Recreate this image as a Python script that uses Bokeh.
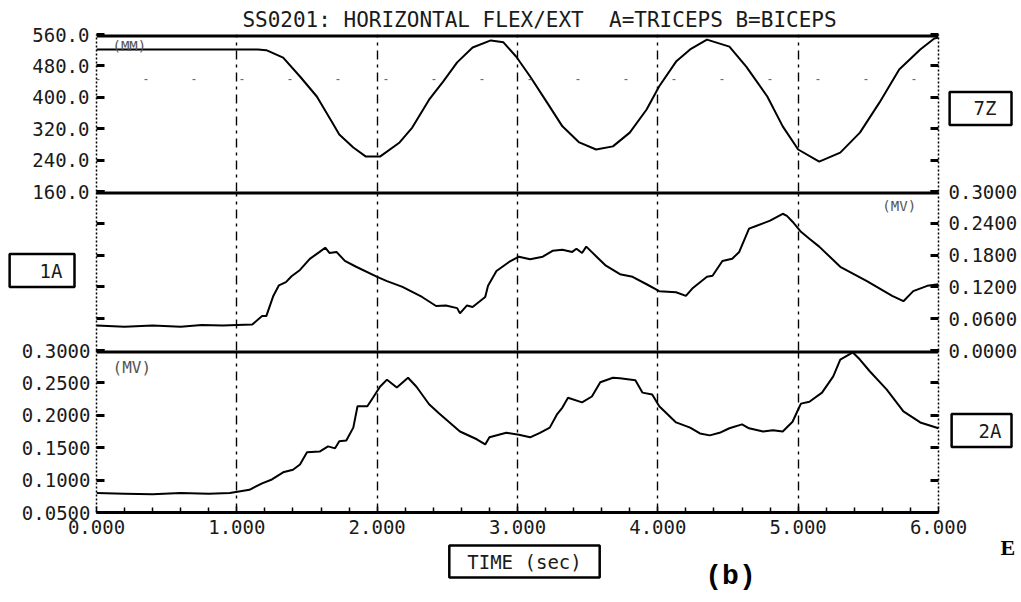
from bokeh.plotting import figure
from bokeh.models import (Range1d, LinearAxis, FixedTicker, NumeralTickFormatter,
                          Span, Label, Grid)
from bokeh.layouts import column
from bokeh.embed import file_html
from bokeh.resources import INLINE

# ---------------- data ----------------
title_text = "SS0201: HORIZONTAL FLEX/EXT\u00a0 A=TRICEPS B=BICEPS"
x_ticks = [0, 1, 2, 3, 4, 5, 6]
x_minor = [0.2, 0.4, 0.6, 0.8, 1.2, 1.4, 1.6, 1.8, 2.2, 2.4, 2.6, 2.8, 3.2, 3.4, 3.6, 3.8,
           4.2, 4.4, 4.6, 4.8, 5.2, 5.4, 5.6, 5.8]
grid_times = [1, 2, 3, 4, 5]

# panel 1 : 7Z position
p1_ticks = [160, 240, 320, 400, 480, 560]
t1 = [0.0, 0.5, 1.0, 1.15, 1.21, 1.33, 1.45, 1.57, 1.68, 1.73, 1.83, 1.92, 2.02, 2.16, 2.25,
      2.37, 2.47, 2.57, 2.68, 2.81, 2.90, 2.99, 3.09, 3.21, 3.32, 3.44, 3.56, 3.68, 3.80, 3.92,
      4.01, 4.13, 4.23, 4.35, 4.51, 4.63, 4.78, 4.89, 5.00, 5.15, 5.30, 5.44, 5.58, 5.72, 5.87,
      5.97, 6.0]
v1 = [522, 522, 522, 522, 520, 501, 453, 402, 336, 305, 272, 249, 249, 285, 323,
      394, 440, 489, 527, 545, 540, 504, 453, 387, 326, 285, 267, 275, 310, 369,
      428, 491, 522, 547, 529, 478, 402, 326, 267, 236, 259, 310, 387, 471, 522,
      550, 552]

# panel 2 : 1A EMG (MV)
p2_ticks = [0.0, 0.06, 0.12, 0.18, 0.24, 0.30]
t2 = [0.0, 0.2, 0.4, 0.6, 0.75, 0.9, 1.0, 1.11, 1.18, 1.21, 1.26, 1.30, 1.35, 1.39, 1.45,
      1.52, 1.59, 1.63, 1.66, 1.71, 1.77, 1.85, 2.0, 2.07, 2.18, 2.32, 2.42, 2.49, 2.57, 2.59,
      2.64, 2.68, 2.77, 2.79, 2.85, 2.94, 3.01, 3.09, 3.18, 3.25, 3.32, 3.39, 3.42, 3.46, 3.49,
      3.56, 3.63, 3.73, 3.82, 3.92, 4.01, 4.13, 4.20, 4.25, 4.35, 4.39, 4.46, 4.53, 4.58, 4.65,
      4.70, 4.80, 4.89, 4.92, 4.96, 5.02, 5.08, 5.15, 5.30, 5.49, 5.67, 5.75, 5.82, 5.92, 6.0]
v2 = [0.047, 0.045, 0.047, 0.045, 0.048, 0.047, 0.048, 0.049, 0.065, 0.065, 0.103, 0.123, 0.129, 0.140, 0.152,
      0.173, 0.186, 0.194, 0.184, 0.186, 0.169, 0.158, 0.139, 0.131, 0.120, 0.101, 0.084, 0.085, 0.080, 0.070,
      0.085, 0.082, 0.101, 0.122, 0.150, 0.167, 0.177, 0.172, 0.177, 0.188, 0.190, 0.186, 0.192, 0.184, 0.196,
      0.178, 0.160, 0.144, 0.139, 0.125, 0.112, 0.110, 0.103, 0.118, 0.139, 0.141, 0.169, 0.173, 0.186, 0.230,
      0.235, 0.245, 0.258, 0.254, 0.243, 0.224, 0.211, 0.196, 0.158, 0.131, 0.103, 0.093, 0.112, 0.122, 0.125]

# panel 3 : 2A EMG (MV)
p3_ticks = [0.05, 0.10, 0.15, 0.20, 0.25, 0.30]
t3 = [0.0, 0.2, 0.4, 0.6, 0.8, 0.95, 1.09, 1.18, 1.25, 1.33, 1.40, 1.45, 1.50, 1.59, 1.65,
      1.70, 1.73, 1.78, 1.83, 1.86, 1.93, 1.97, 2.02, 2.07, 2.14, 2.22, 2.28, 2.37, 2.44, 2.59,
      2.71, 2.77, 2.80, 2.92, 3.01, 3.09, 3.16, 3.23, 3.28, 3.32, 3.36, 3.46, 3.53, 3.59, 3.68,
      3.73, 3.84, 3.89, 3.96, 4.01, 4.13, 4.23, 4.30, 4.37, 4.44, 4.51, 4.60, 4.65, 4.75, 4.82,
      4.89, 4.96, 5.00, 5.02, 5.08, 5.17, 5.25, 5.30, 5.34, 5.39, 5.44, 5.51, 5.63, 5.75, 5.87,
      6.0]
v3 = [0.080, 0.079, 0.078, 0.080, 0.079, 0.080, 0.085, 0.095, 0.101, 0.112, 0.116, 0.124, 0.143, 0.144, 0.152,
      0.149, 0.160, 0.161, 0.181, 0.214, 0.214, 0.227, 0.244, 0.255, 0.243, 0.258, 0.244, 0.217, 0.203, 0.175,
      0.163, 0.155, 0.166, 0.173, 0.170, 0.166, 0.173, 0.181, 0.201, 0.212, 0.227, 0.220, 0.229, 0.251, 0.258,
      0.257, 0.254, 0.235, 0.232, 0.214, 0.189, 0.181, 0.172, 0.169, 0.173, 0.180, 0.186, 0.180, 0.175, 0.177,
      0.175, 0.190, 0.209, 0.218, 0.221, 0.235, 0.260, 0.286, 0.291, 0.297, 0.286, 0.268, 0.240, 0.206, 0.189,
      0.180]

# ---------------- styling ----------------
FONT = "DejaVu Sans Mono"
TXT = "#1a1a1a"
xr = Range1d(0, 6)
OVL = 28  # vertical overlap of stacked canvases (px)


def make_fig(ylo, yhi, fh, top, bottom, margin_top=0):
    p = figure(x_range=xr, y_range=Range1d(ylo, yhi), frame_width=842, frame_height=fh,
               min_border_left=96, min_border_right=80, min_border_top=top,
               min_border_bottom=bottom, output_backend="svg", toolbar_location=None,
               x_axis_location=None, y_axis_location=None,
               margin=(margin_top, 0, 0, 0))
    p.outline_line_color = None
    p.grid.grid_line_color = None
    p.background_fill_color = "white"
    p.border_fill_color = None
    p.add_layout(Grid(dimension=0, ticker=FixedTicker(ticks=grid_times),
                      grid_line_color="black", grid_line_dash="9 5 3 5",
                      grid_line_width=1.4))
    return p


def add_yaxis(p, side, ticks, fmt, size="19px", standoff=7):
    ax = LinearAxis(ticker=FixedTicker(ticks=ticks),
                    formatter=NumeralTickFormatter(format=fmt),
                    major_tick_in=8, major_tick_out=0, major_tick_line_width=3,
                    minor_tick_line_color=None,
                    axis_line_dash="2 2", axis_line_width=1.5,
                    major_label_text_font=FONT, major_label_text_color=TXT,
                    major_label_text_font_size=size, major_label_standoff=standoff)
    p.add_layout(ax, side)


def add_plain_yaxis(p, side, ticks):
    # tick marks only, no labels (ticks given as minor ticks)
    ax = LinearAxis(ticker=FixedTicker(ticks=[], minor_ticks=ticks),
                    major_tick_line_color=None, major_tick_in=0, major_tick_out=0,
                    minor_tick_in=8, minor_tick_out=0, minor_tick_line_width=3,
                    axis_line_dash="2 2", axis_line_width=1.5, major_label_standoff=0)
    p.add_layout(ax, side)


# ---------- panel 1 ----------
p1 = make_fig(160, 560, 157, 34, 14)
add_yaxis(p1, "left", p1_ticks, "0.0", standoff=7)
add_plain_yaxis(p1, "right", p1_ticks)
p1.add_layout(Span(location=560, dimension="width", line_color="black", line_width=6))
p1.add_layout(Span(location=445, dimension="width", line_color="#555555", line_width=1,
                   line_dash="3 45"))
p1.line(t1, v1, line_color="black", line_width=2)
p1.add_layout(Label(x=0.114, y=552, text="(MM)", text_font=FONT, text_font_size="14px",
                    text_color="#555555", text_baseline="top"))

# ---------- panel 2 ----------
p2 = make_fig(0.0, 0.30, 159, 14, 14, margin_top=-OVL)
add_plain_yaxis(p2, "left", p2_ticks)
add_yaxis(p2, "right", p2_ticks, "0.0000", size="19px", standoff=10)
p2.add_layout(Span(location=0.30, dimension="width", line_color="black", line_width=6))
p2.line(t2, v2, line_color="black", line_width=2)
p2.add_layout(Label(x=5.60, y=0.2886, text="(MV)", text_font=FONT, text_font_size="14px",
                    text_color="#555555", text_baseline="top"))

# ---------- panel 3 ----------
p3 = make_fig(0.05, 0.30, 162, 14, 80, margin_top=-OVL)
add_yaxis(p3, "left", p3_ticks, "0.0000", standoff=6)
add_plain_yaxis(p3, "right", p3_ticks)
p3.add_layout(Span(location=0.30, dimension="width", line_color="black", line_width=6))
xax = LinearAxis(ticker=FixedTicker(ticks=x_ticks, minor_ticks=x_minor),
                 formatter=NumeralTickFormatter(format="0.000"),
                 major_tick_in=6, major_tick_out=0, major_tick_line_width=1.5,
                 minor_tick_in=5, minor_tick_out=0, minor_tick_line_width=1.5,
                 axis_line_width=3, major_label_text_font=FONT,
                 major_label_text_font_size="19px", major_label_text_color=TXT,
                 major_label_standoff=7)
p3.add_layout(xax, "below")
p3.line(t3, v3, line_color="black", line_width=2)
p3.add_layout(Label(x=0.114, y=0.2877, text="(MV)", text_font=FONT, text_font_size="16px",
                    text_color="#555555", text_baseline="top"))

# ---------- overlay for texts outside the panels (pixel coordinates) ----------
H_TOTAL = 592
ov = figure(width=1018, height=H_TOTAL, x_range=Range1d(1, 1019), y_range=Range1d(593, 1),
            min_border_left=0, min_border_right=0, min_border_top=0, min_border_bottom=0,
            output_backend="svg", toolbar_location=None,
            x_axis_location=None, y_axis_location=None, margin=(-H_TOTAL, 0, 0, 0))
if "frame_align" in ov.properties():
    ov.frame_align = False
ov.outline_line_color = None
ov.grid.grid_line_color = None
ov.background_fill_color = None
ov.border_fill_color = None


def box_label(x, y, text, pad, align="right", size="19px"):
    # pad = (left, right, top, bottom)
    ov.add_layout(Label(x=x, y=y, text=text, text_font=FONT, text_font_size=size,
                        text_color=TXT, text_align=align, text_baseline="middle",
                        border_line_color="black", border_line_width=2.5,
                        background_fill_color="white", padding=pad))


ov.add_layout(Label(x=540, y=20, text=title_text, text_font=FONT, text_font_size="21px",
                    text_color=TXT, text_align="center", text_baseline="middle"))
box_label(1012, 109, "7Z", (24, 15, 5, 6))
box_label(75, 271, "1A", (30, 12, 6, 5))
box_label(1012, 431, "2A", (27, 10, 6, 5))
box_label(525, 562, "TIME (sec)", (18, 18, 5, 5), align="center")
ov.add_layout(Label(x=731, y=577, text="(b)", text_font="Liberation Mono",
                    text_font_size="28px", text_font_style="bold", text_color="black",
                    text_align="center", text_baseline="middle"))
ov.add_layout(Label(x=1001, y=548, text="E", text_font="Liberation Serif",
                    text_font_size="22px", text_font_style="bold", text_color="black",
                    text_align="left", text_baseline="middle"))

layout = column(p1, p2, p3, ov, spacing=0)
open("out.html", "w").write(file_html(layout, INLINE))
